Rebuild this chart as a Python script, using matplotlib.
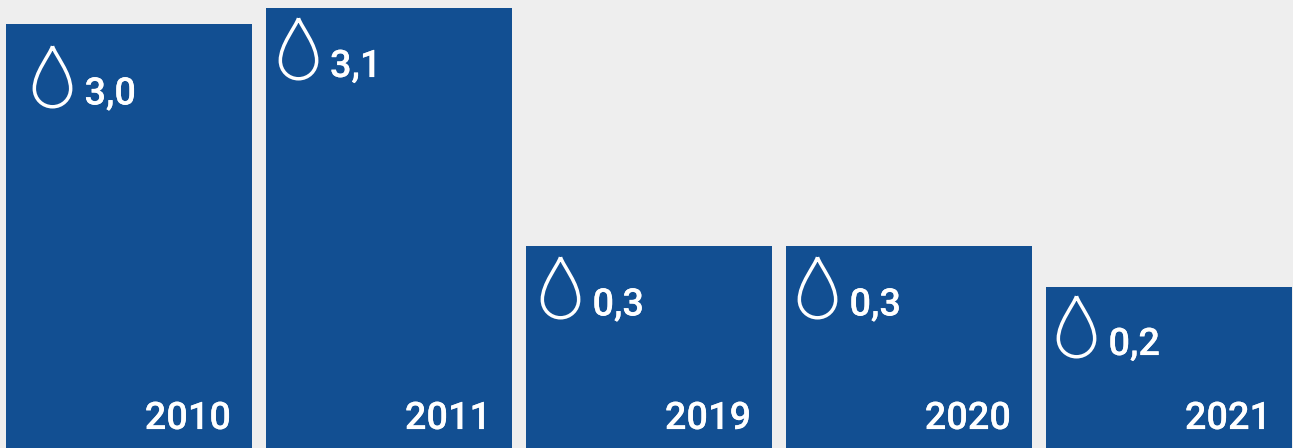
import matplotlib
matplotlib.use('Agg')
import matplotlib.pyplot as plt
import matplotlib.patheffects as pe
from matplotlib.path import Path

years = ['2010', '2011', '2019', '2020', '2021']
labels = ['3,0', '3,1', '0,3', '0,3', '0,2']
# bar heights, the bars are not proportional to the labels
heights = [424, 440, 202, 202, 161]

# drop position inside each bar, px from bar left / bar top
drop_dx = [46, 31.5, 34, 31, 30]
drop_dy = [51.5, 40, 40.5, 40.5, 39]

BLUE = '#124F92'
BG = '#EEEEEE'
STEP = 260
BAR_W = 246

drop_verts = [(0, 1),
              (0.10, 0.70), (0.60, 0.12), (0.60, -0.40),
              (0.60, -0.74), (0.33, -1), (0, -1),
              (-0.33, -1), (-0.60, -0.74), (-0.60, -0.40),
              (-0.60, 0.12), (-0.10, 0.70), (0, 1)]
drop_codes = [Path.MOVETO] + [Path.CURVE4] * 12
drop = Path(drop_verts, drop_codes)

fig = plt.figure(figsize=(12.93, 4.48), dpi=100, facecolor=BG)
ax = fig.add_axes([0, 0, 1, 1], facecolor=BG)
ax.set_xlim(-129 / STEP, (1293 - 129) / STEP)
ax.set_ylim(0, 448)
ax.axis('off')

ax.bar(range(len(years)), heights, width=BAR_W / STEP, color=BLUE, linewidth=0)

# the medium face comes out a bit thin, thicken it slightly
thicker = [pe.withStroke(linewidth=0.1, foreground='white')]

for i, (year, label, h) in enumerate(zip(years, labels, heights)):
    x = i + (drop_dx[i] - BAR_W / 2) / STEP
    y = h - drop_dy[i]
    ax.plot([x], [y], marker=drop, ms=43.6, mfc='none', mec='white', mew=2.5,
            ls='none', clip_on=False)
    ax.annotate(label, (x, y), xytext=(32.5, -29), textcoords='offset pixels',
                color='white', fontsize=27.3, family='Roboto', fontweight='medium',
                ha='left', va='baseline', path_effects=thicker)
    ax.annotate(year, (i + BAR_W / 2 / STEP, 0), xytext=(-21, 19), textcoords='offset pixels',
                color='white', fontsize=27.3, family='Roboto', fontweight='medium',
                ha='right', va='baseline', path_effects=thicker)

fig.savefig('out.png', dpi=100, facecolor=BG)
